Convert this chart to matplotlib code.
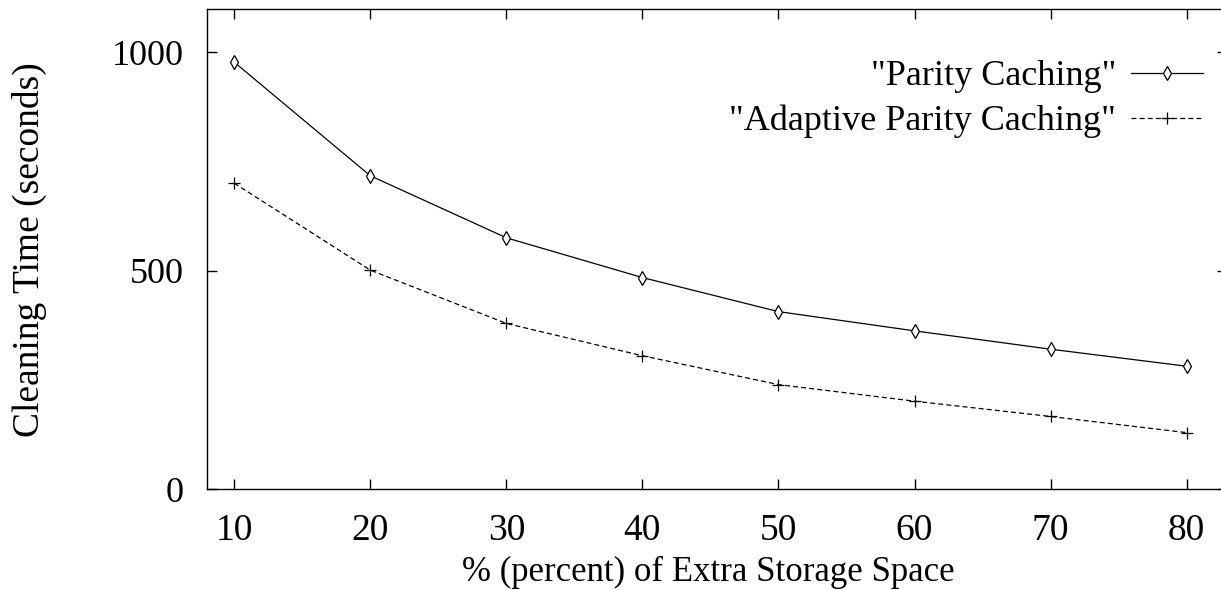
import matplotlib
matplotlib.use("Agg")
import matplotlib.pyplot as plt

# values
extra_space = [10, 20, 30, 40, 50, 60, 70, 80]
parity_caching = [977, 717, 575, 484, 406, 362, 320, 281]
adaptive_parity_caching = [700, 501, 379, 305, 239, 201, 166, 129]

x_ticks = [10, 20, 30, 40, 50, 60, 70, 80]
y_ticks = [0, 500, 1000]

plt.rcParams['font.family'] = ['Liberation Serif', 'DejaVu Serif']

fig = plt.figure(figsize=(12.21, 5.90), dpi=100)
W, H = 1221, 590
left, right, bottom, top = 207, 1227.5, 489, 9.3
ax = fig.add_axes([left / W, 1 - bottom / H, (right - left) / W, (bottom - top) / H])

ax.plot(extra_space, parity_caching, color='black', linewidth=0.9,
        marker='d', markersize=7, markerfacecolor='white', markeredgewidth=0.9,
        label='"Parity Caching"')
ax.plot(extra_space, adaptive_parity_caching, color='black', linewidth=0.9,
        linestyle=(0, (4, 2.5)), marker='+', markersize=9, markeredgewidth=0.9,
        label='"Adaptive Parity Caching"')

ax.set_xlim(8, 83)
ax.set_ylim(0, 1098)
ax.set_xticks(x_ticks)
ax.set_yticks(y_ticks)
ax.tick_params(direction='in', length=7, width=1, top=True, right=True)
ax.tick_params(axis='x', labelsize=27, pad=18)
ax.tick_params(axis='y', labelsize=26, pad=17)
for s in ax.spines.values():
    s.set_linewidth(1.0)

ax.set_xlabel('% (percent) of Extra Storage Space', fontsize=25)
ax.xaxis.set_label_coords(0.4915, -0.139)
ax.set_ylabel('Cleaning Time (seconds)', fontsize=27)
ax.yaxis.set_label_coords(-0.157, 0.5)

leg = ax.legend(loc='upper right', bbox_to_anchor=(1203 / W, 1 - 60 / H),
                bbox_transform=fig.transFigure, frameon=False, markerfirst=False,
                fontsize=26, handlelength=2.0, handletextpad=0.4,
                labelspacing=0.32, borderaxespad=0, borderpad=0)
for t in leg.get_texts():
    t.set_ha('right')

fig.savefig('out.png', dpi=100)
